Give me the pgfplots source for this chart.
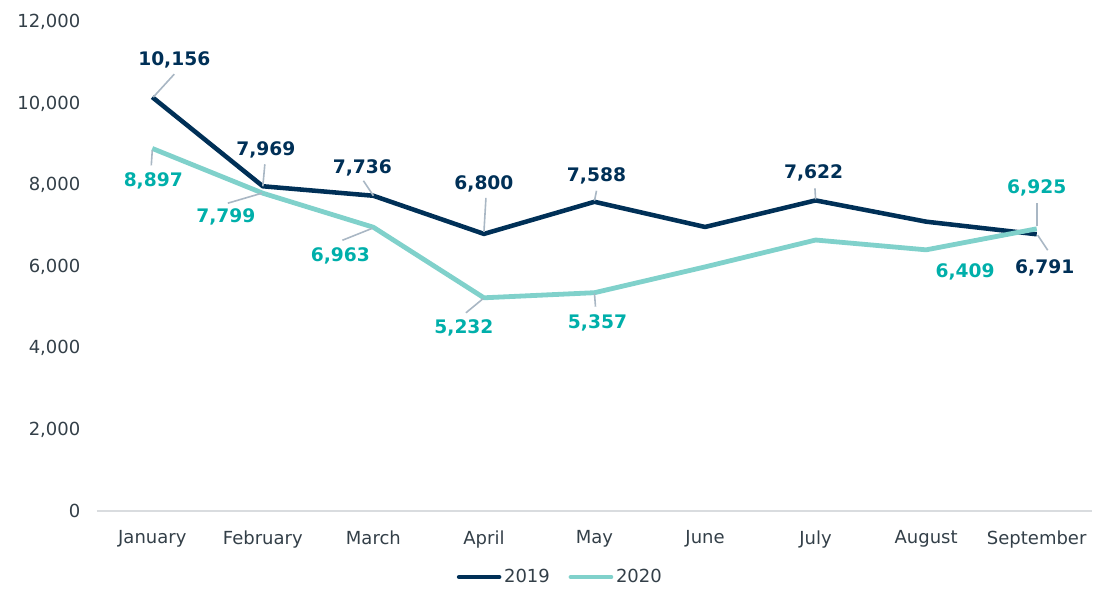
\documentclass[border=0pt]{standalone}
\usepackage{pgfplots}
\pgfplotsset{compat=1.18}
\usepackage{fontspec}
\setmainfont{DejaVu Sans}
\definecolor{navy}{HTML}{003057}
\definecolor{tealline}{HTML}{80D1CB}
\definecolor{tealtext}{HTML}{00AFAA}
\definecolor{tickgray}{HTML}{333F48}
\definecolor{leadc}{HTML}{A9B7C4}
\definecolor{basec}{HTML}{D9DCDF}
\tikzset{
  lead/.style={leadc, line width=1.2pt},
  labA/.style={text=navy, inner sep=0pt, anchor=center, font=\bfseries\fontsize{14}{16}\selectfont},
  labB/.style={text=tealtext, inner sep=0pt, anchor=center, font=\bfseries\fontsize{14}{16}\selectfont},
}
\newcommand{\lab}[9]{%
  \draw[lead] ([shift={(#4pt,#5pt)}]axis cs:#2,#3) -- ([shift={(#6pt,#7pt)}]axis cs:#2,#3);
}
\newcommand{\txt}[6]{%
  \node[#1] at ([shift={(#4pt,#5pt)}]axis cs:#2,#3) {#6};
}
\begin{document}
\begin{tikzpicture}
\path[use as bounding box] (0,0) rectangle (836.25pt,456pt);
\begin{axis}[
  at={(72.75pt,72.75pt)}, anchor=south west,
  scale only axis, width=746.25pt, height=366.75pt,
  xmin=-0.5, xmax=8.5, ymin=0, ymax=12000,
  scaled y ticks=false,
  axis x line*=bottom, axis y line*=left,
  x axis line style={basec, line width=1pt, -},
  y axis line style={draw=none},
  major tick length=0pt,
  xtick={0,...,8},
  xticklabels={January,February,March,April,May,June,July,August,September},
  ytick={0,2000,4000,6000,8000,10000,12000},
  yticklabels={0,{2,000},{4,000},{6,000},{8,000},{10,000},{12,000}},
  tick label style={font=\fontsize{13.5}{16}\selectfont, text=tickgray},
  yticklabel style={xshift=-9pt},
  xticklabel style={yshift=-11pt},
  clip=false,
  legend style={at={(axis description cs:0.466,-0.135)}, anchor=center, draw=none, fill=none,
    legend columns=2, font=\fontsize{13.5}{16}\selectfont, text=tickgray,
    /tikz/every even column/.append style={column sep=12pt},
    inner sep=0pt},
  legend image code/.code={\draw[#1, line cap=round] (0pt,0pt) -- (30pt,0pt);},
]
\addplot[navy, line width=3.4pt, line join=round] coordinates {(0,10156)(1,7969)(2,7736)(3,6800)(4,7588)(5,6970)(6,7622)(7,7100)(8,6791)};
\addlegendentry{2019}
\addplot[tealline, line width=3.6pt, line join=round] coordinates {(0,8897)(1,7799)(2,6963)(3,5232)(4,5357)(5,5990)(6,6650)(7,6409)(8,6925)};
\addlegendentry{2020}

% leaders 2019
\lab{}{0}{10156}{0.75}{0}{16.5}{17.25}{}{}
\lab{}{1}{7969}{0}{0}{1.5}{16.5}{}{}
\lab{}{2}{7736}{0}{0}{-7.5}{11.25}{}{}
\lab{}{3}{6800}{0}{1.5}{1.5}{27}{}{}
\lab{}{4}{7588}{0}{0.75}{1.5}{8.25}{}{}
\lab{}{6}{7622}{0}{0.75}{-0.5}{9}{}{}
\lab{}{8}{6791}{0.75}{-0.75}{8.25}{-12}{}{}
% leaders 2020
\lab{}{0}{8897}{0}{-1.5}{-0.75}{-12.75}{}{}
\lab{}{1}{7799}{-0.75}{0}{-26.25}{-7.5}{}{}
\lab{}{2}{6963}{-0.75}{-0.75}{-23.25}{-9.75}{}{}
\lab{}{3}{5232}{-0.75}{-0.75}{-13.5}{-11.25}{}{}
\lab{}{4}{5357}{0}{-0.75}{0.75}{-10.5}{}{}
\lab{}{8}{6925}{0}{2.25}{0}{19.5}{}{}

% labels 2019
\txt{labA}{0}{10156}{16.5}{27.75}{10,156}
\txt{labA}{1}{7969}{2.25}{27}{7,969}
\txt{labA}{2}{7736}{-8.25}{21}{7,736}
\txt{labA}{3}{6800}{0}{37.5}{6,800}
\txt{labA}{4}{7588}{1.5}{19.5}{7,588}
\txt{labA}{6}{7622}{-1.5}{21}{7,622}
\txt{labA}{8}{6791}{6}{-25.5}{6,791}
% labels 2020
\txt{labB}{0}{8897}{0.75}{-24}{8,897}
\txt{labB}{1}{7799}{-27.75}{-18}{7,799}
\txt{labB}{2}{6963}{-24.75}{-21.75}{6,963}
\txt{labB}{3}{5232}{-15}{-22.5}{5,232}
\txt{labB}{4}{5357}{2.25}{-22.5}{5,357}
\txt{labB}{7}{6409}{29.25}{-16.5}{6,409}
\txt{labB}{8}{6925}{0}{30.75}{6,925}
\end{axis}
\end{tikzpicture}
\end{document}
